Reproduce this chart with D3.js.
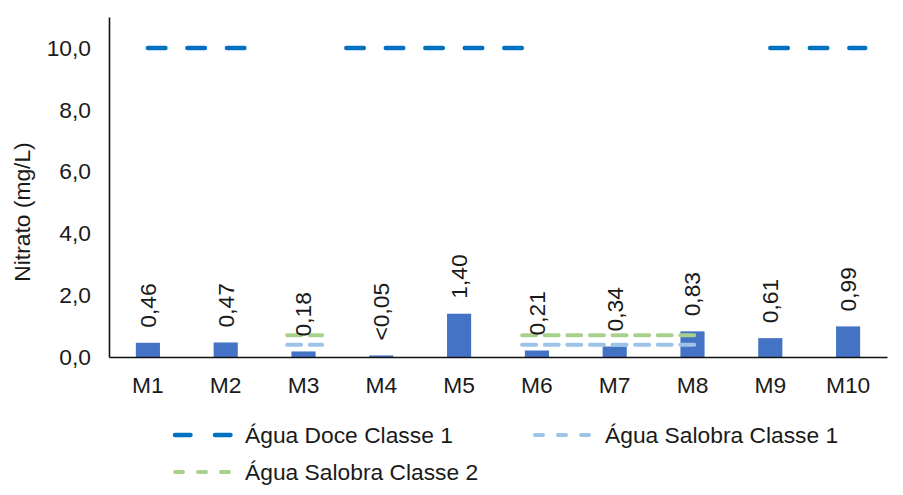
<!DOCTYPE html>
<html>
<head>
<meta charset="utf-8">
<script src="https://cdn.jsdelivr.net/npm/d3@7"></script>
<style>
  html, body { margin: 0; padding: 0; background: #fff; }
  svg { display: block; font-family: "Liberation Sans", Arial, sans-serif; }
</style>
</head>
<body>
<svg id="chart" width="903" height="495"></svg>
<script>
// ---- data ----
const categories = ["M1", "M2", "M3", "M4", "M5", "M6", "M7", "M8", "M9", "M10"];
const nitrate = [0.46, 0.47, 0.18, 0.05, 1.40, 0.21, 0.34, 0.83, 0.61, 0.99];
const valueLabels = ["0,46", "0,47", "0,18", "<0,05", "1,40", "0,21", "0,34", "0,83", "0,61", "0,99"];
const yTicks = [0, 2, 4, 6, 8, 10];
const yMax = 11;
const doceClasse1Limit = 10.0;
const salobraClasse1Limit = 0.40;
const salobraClasse2Limit = 0.70;
// extents of the limit lines, in sample-index units (0 = M1)
const doceSpans = [[0, 1.25], [2.55, 4.83], [8, 9.22]];
const salobraSpans = [[1.79, 2.24], [4.81, 7.03]];
const legendNames = ["Água Doce Classe 1", "Água Salobra Classe 1", "Água Salobra Classe 2"];

// ---- layout ----
const W = 903, H = 495;
const m = { left: 109, right: 16, top: 17, bottom: 138 };
const plotR = W - m.right, plotB = H - m.bottom;
const fontSize = 22.8;
const textColor = "#1a1a1a";
const barColor = "#4472C4";
const doceColor = "#0070C0";
const sal1Color = "#9DC3E6";
const sal2Color = "#A9D18E";

const svg = d3.select("#chart");

const x = d3.scaleBand().domain(categories).range([m.left, plotR]).padding(0);
const y = d3.scaleLinear().domain([0, yMax]).range([plotB, m.top]);
const xi = d3.scaleLinear().domain([0, categories.length - 1])
  .range([x(categories[0]) + x.bandwidth() / 2, x(categories[categories.length - 1]) + x.bandwidth() / 2]);
const barW = x.bandwidth() * 0.31;

// bars
svg.append("g").selectAll("rect").data(categories).join("rect")
  .attr("x", (d) => x(d) + (x.bandwidth() - barW) / 2)
  .attr("y", (d, i) => y(nitrate[i]))
  .attr("width", barW)
  .attr("height", (d, i) => y(0) - y(nitrate[i]))
  .attr("fill", barColor);

// limit lines
function drawSpans(spans, value, color, width, dash) {
  svg.append("g").selectAll("line").data(spans).join("line")
    .attr("x1", (d) => xi(d[0]))
    .attr("x2", (d) => xi(d[1]))
    .attr("y1", y(value)).attr("y2", y(value))
    .attr("stroke", color).attr("stroke-width", width)
    .attr("stroke-linecap", "round")
    .attr("stroke-dasharray", dash);
}
drawSpans(doceSpans, doceClasse1Limit, doceColor, 4.5, "17.5,22");
drawSpans(salobraSpans, salobraClasse2Limit, sal2Color, 4, "14,8.6");
drawSpans(salobraSpans, salobraClasse1Limit, sal1Color, 4, "14,8.6");

// axes
const xAxis = svg.append("g").attr("transform", `translate(0,${plotB})`)
  .call(d3.axisBottom(x).tickSize(0).tickSizeOuter(0).tickPadding(20));
const yAxis = svg.append("g").attr("transform", `translate(${m.left},0)`)
  .call(d3.axisLeft(y).tickValues(yTicks).tickSize(0).tickSizeOuter(0).tickPadding(18)
    .tickFormat((d) => d.toFixed(1).replace(".", ",")));
[xAxis, yAxis].forEach((g) => {
  g.select(".domain").attr("stroke", "#111").attr("stroke-width", 1.6);
  g.selectAll("text").attr("font-size", fontSize).attr("fill", textColor)
    .attr("font-family", "Liberation Sans, Arial, sans-serif");
});

// y title
svg.append("text")
  .attr("transform", `translate(22,212) rotate(-90)`)
  .attr("text-anchor", "middle").attr("dy", "0.35em")
  .attr("font-size", fontSize).attr("fill", textColor)
  .text("Nitrato (mg/L)");

// value labels
svg.append("g").selectAll("text").data(categories).join("text")
  .attr("transform", (d, i) => `translate(${x(d) + x.bandwidth() / 2},${y(nitrate[i]) - 15}) rotate(-90)`)
  .attr("text-anchor", "start").attr("dy", "0.35em")
  .attr("font-size", fontSize).attr("fill", textColor)
  .text((d, i) => valueLabels[i]);

// legend
const legendItems = [
  { name: legendNames[0], color: doceColor, width: 4.5, dash: "15.5,24.5", x: 175, y: 435 },
  { name: legendNames[1], color: sal1Color, width: 4, dash: "8,15", x: 535, y: 435 },
  { name: legendNames[2], color: sal2Color, width: 4, dash: "8,15", x: 175, y: 472 }
];
const lg = svg.append("g").selectAll("g").data(legendItems).join("g")
  .attr("transform", (d) => `translate(${d.x},${d.y})`);
lg.append("line").attr("x1", 0).attr("x2", 56).attr("y1", 0).attr("y2", 0)
  .attr("stroke", (d) => d.color).attr("stroke-width", (d) => d.width)
  .attr("stroke-linecap", "round").attr("stroke-dasharray", (d) => d.dash);
lg.append("text").attr("x", 70).attr("dy", "0.35em")
  .attr("font-size", fontSize).attr("fill", textColor)
  .text((d) => d.name);
</script>
</body>
</html>
